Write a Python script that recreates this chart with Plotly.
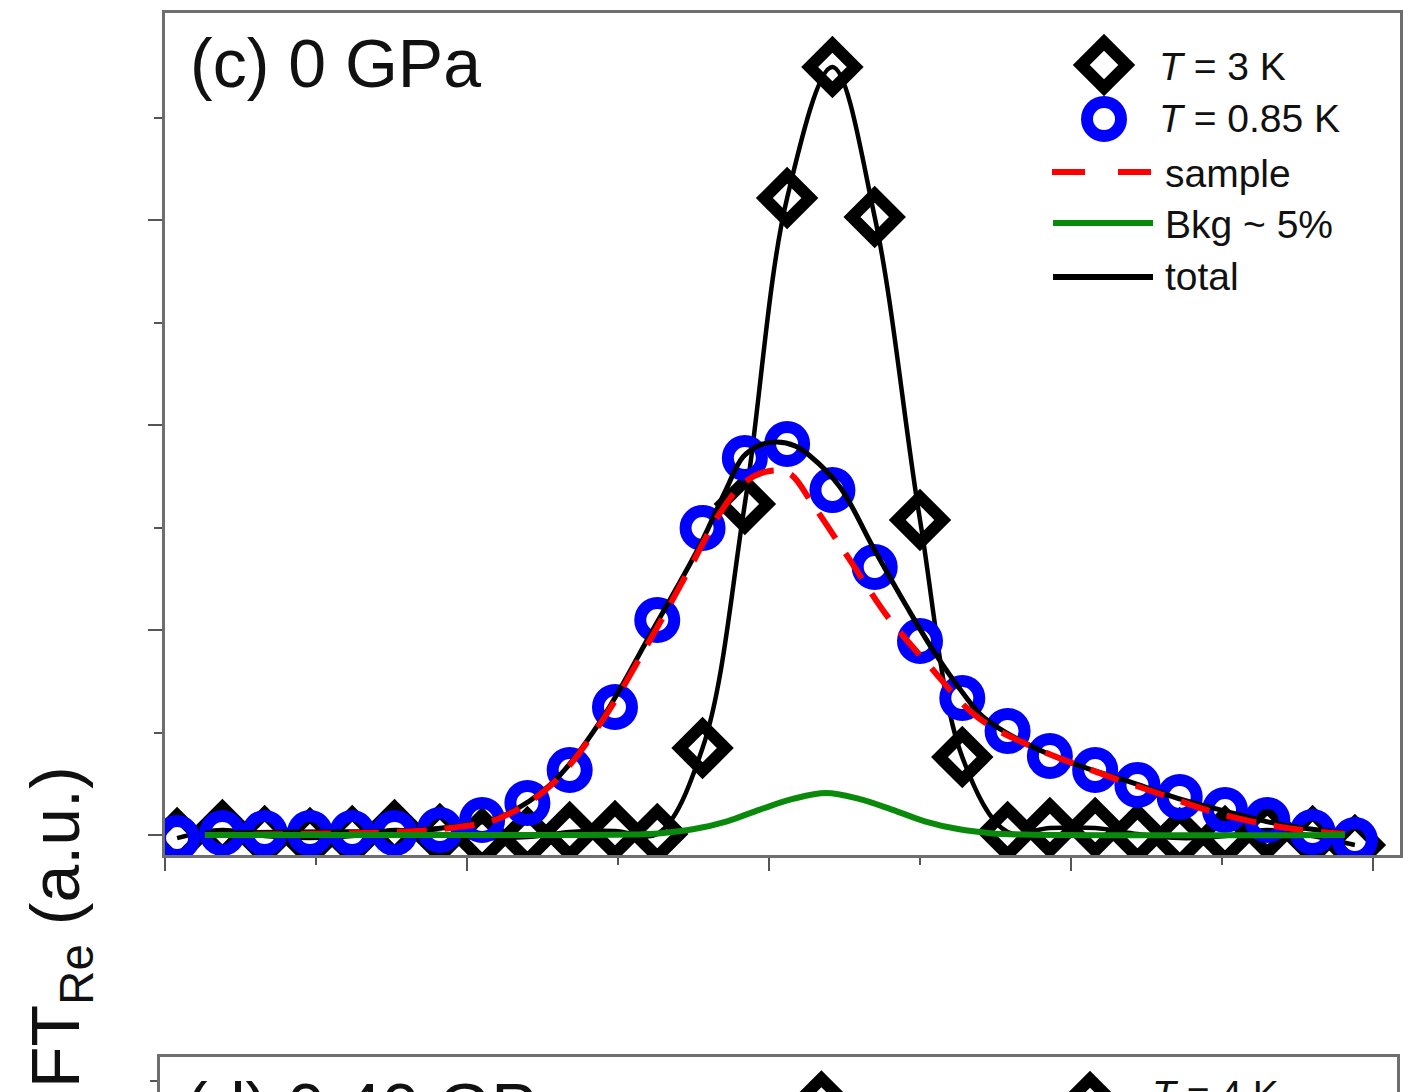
import plotly.graph_objects as go

W, H = 1403, 1092
FONT = "Liberation Sans, Arial, sans-serif"

# ---------------- panel (c): 0 GPa ----------------
# common abscissa of the two Fourier spectra
x_pts = [0.04, 0.19, 0.33, 0.48, 0.62, 0.76, 0.91, 1.05, 1.20, 1.34,
         1.49, 1.63, 1.78, 1.92, 2.06, 2.21, 2.35, 2.50, 2.64, 2.79,
         2.93, 3.08, 3.22, 3.36, 3.51, 3.65, 3.80, 3.94]

# T = 3 K spectrum
ft_3K = [-0.015, 0.024, -0.005, -0.015, -0.005, 0.024, 0.005, -0.015, -0.010, 0.015,
         0.020, 0.005, 0.424, 1.615, 3.107, 3.746, 3.015, 1.537, 0.380, 0.015,
         0.034, 0.034, 0.005, -0.015, -0.005, 0.024, -0.005, -0.049]

# T = 0.85 K spectrum
ft_085K = [-0.015, 0.010, 0.010, 0.010, 0.010, 0.010, 0.024, 0.073, 0.156, 0.317,
           0.624, 1.049, 1.498, 1.839, 1.907, 1.683, 1.307, 0.946, 0.668, 0.507,
           0.385, 0.317, 0.244, 0.185, 0.122, 0.073, 0.015, -0.024]

# fit components for the 0.85 K spectrum
total_x = [0.132, 0.447, 0.778, 0.944, 1.109, 1.275, 1.440, 1.606, 1.772, 1.854,
           1.914, 1.970, 2.026, 2.086, 2.136, 2.235, 2.344, 2.457, 2.543, 2.642,
           2.709, 2.874, 3.040, 3.205, 3.371, 3.536, 3.702, 3.907]
total_y = [0.010, 0.015, 0.020, 0.039, 0.088, 0.244, 0.551, 0.976, 1.415, 1.673,
           1.844, 1.902, 1.917, 1.898, 1.849, 1.698, 1.405, 1.112, 0.902, 0.693,
           0.576, 0.429, 0.332, 0.254, 0.171, 0.107, 0.049, 0.010]

sample_x = [0.132, 0.447, 0.778, 0.944, 1.109, 1.275, 1.440, 1.606, 1.738, 1.838,
            1.921, 2.003, 2.070, 2.146, 2.268, 2.394, 2.523, 2.689, 2.874, 3.086,
            3.305, 3.483, 3.715, 3.907]
sample_y = [0.000, 0.005, 0.015, 0.034, 0.083, 0.239, 0.541, 0.951, 1.302, 1.571,
            1.722, 1.776, 1.761, 1.610, 1.341, 1.063, 0.839, 0.576, 0.429, 0.307,
            0.195, 0.107, 0.034, 0.005]

bkg_x = [0.132, 1.109, 1.533, 1.642, 1.752, 1.861, 1.970, 2.079, 2.189, 2.298,
         2.407, 2.516, 2.626, 2.735, 2.844, 3.907]
bkg_y = [0.000, 0.000, 0.002, 0.009, 0.029, 0.067, 0.124, 0.176, 0.205, 0.176,
         0.124, 0.067, 0.029, 0.009, 0.002, 0.000]

# ---------------- panel (d): 0.40 GPa (top edge only) ----------------
d_x_4K = [2.19]
d_ft_4K = [3.40]

legend_labels = ["<i>T</i> = 3 K", "<i>T</i> = 0.85 K", "sample", "Bkg ~ 5%", "total"]

DIAMOND = dict(symbol="diamond-open", size=35, color="black", line=dict(width=12, color="black"))
CIRCLE = dict(symbol="circle-open", size=34, color="#0000ff", line=dict(width=12, color="#0000ff"))
RED = "#ff0000"
GREEN = "#0a8a0a"

fig = go.Figure()

# 3 K: smooth line through the points, then the markers
fig.add_trace(go.Scatter(x=x_pts, y=ft_3K, mode="lines",
                         line=dict(color="black", width=4.5, shape="spline", smoothing=1.0),
                         showlegend=False, hoverinfo="skip"))
fig.add_trace(go.Scatter(x=x_pts, y=ft_3K, mode="markers", marker=DIAMOND,
                         showlegend=False))
# 0.85 K data
fig.add_trace(go.Scatter(x=x_pts, y=ft_085K, mode="markers", marker=CIRCLE,
                         showlegend=False))
# fit components
fig.add_trace(go.Scatter(x=total_x, y=total_y, mode="lines",
                         line=dict(color="black", width=5, shape="spline", smoothing=1.0),
                         showlegend=False))
fig.add_trace(go.Scatter(x=sample_x, y=sample_y, mode="lines",
                         line=dict(color=RED, width=6, dash="30px,18px", shape="spline", smoothing=1.0),
                         showlegend=False))
fig.add_trace(go.Scatter(x=bkg_x, y=bkg_y, mode="lines",
                         line=dict(color=GREEN, width=6, shape="spline", smoothing=1.0),
                         showlegend=False))

# panel (d) peak marker (only its upper half falls inside the page)
fig.add_trace(go.Scatter(x=d_x_4K, y=d_ft_4K, mode="markers", marker=DIAMOND,
                         xaxis="x2", yaxis="y2", showlegend=False))

# ---------------- legend glyphs on a pixel-scaled overlay ----------------
def px_trace(**kw):
    fig.add_trace(go.Scatter(xaxis="x3", yaxis="y3",
                             showlegend=False, hoverinfo="skip", **kw))

px_trace(x=[1104], y=[65], mode="markers", marker=DIAMOND)
px_trace(x=[1104], y=[119], mode="markers", marker=CIRCLE)
px_trace(x=[1052, 1152], y=[172, 172], mode="lines", line=dict(color=RED, width=6, dash="33px,33px"))
px_trace(x=[1053, 1153], y=[223, 223], mode="lines", line=dict(color=GREEN, width=6))
px_trace(x=[1053, 1153], y=[277, 277], mode="lines", line=dict(color="black", width=6))
# legend of panel (d)
px_trace(x=[1090], y=[1102], mode="markers", marker=DIAMOND)

axis_line = dict(showline=True, linecolor="#6e6e6e", linewidth=3,
                 ticks="outside", tickcolor="#555555", tickwidth=2,
                 showticklabels=False, showgrid=False, zeroline=False)

fig.update_layout(
    width=W, height=H,
    margin=dict(l=0, r=0, t=0, b=0),
    paper_bgcolor="white", plot_bgcolor="rgba(0,0,0,0)",
    showlegend=False,
    xaxis=dict(domain=[165 / W, 1400 / W], range=[0, 1235 / 302], anchor="y",
               mirror=True, tickvals=[0, 1, 2, 3, 4], ticklen=13,
               minor=dict(tickvals=[0.5, 1.5, 2.5, 3.5], ticklen=7, ticks="outside",
                          tickcolor="#555555", tickwidth=2),
               **axis_line),
    yaxis=dict(domain=[(H - 855) / H, (H - 13) / H], range=[-20 / 205, 822 / 205], anchor="x",
               mirror=True, tickvals=[0, 1, 2, 3], ticklen=14,
               minor=dict(tickvals=[0.5, 1.5, 2.5, 3.5], ticklen=8, ticks="outside",
                          tickcolor="#555555", tickwidth=2),
               **axis_line),
    xaxis2=dict(domain=[160 / W, 1397 / W], range=[0, 1237 / 302], anchor="y2",
                side="top", showline=True, linecolor="#6e6e6e", linewidth=3,
                ticks="", showticklabels=False, showgrid=False, zeroline=False),
    yaxis2=dict(domain=[0, 35 / H], range=[3.617 - 35 / 205, 3.617], anchor="x2",
                mirror=True, tickvals=[3.5], ticklen=7, **axis_line),
    xaxis3=dict(domain=[0, 1], range=[0, W], anchor="y3", visible=False),
    yaxis3=dict(domain=[0, 1], range=[H, 0], anchor="x3", visible=False),
)

annotations = [
    dict(text="(c) 0 GPa", x=188, y=63, xanchor="left", yanchor="middle",
         font=dict(size=68)),
    dict(text=legend_labels[0], x=1157, y=66, xanchor="left", yanchor="middle"),
    dict(text=legend_labels[1], x=1157, y=118, xanchor="left", yanchor="middle"),
    dict(text=legend_labels[2], x=1163, y=173, xanchor="left", yanchor="middle"),
    dict(text=legend_labels[3], x=1163, y=224, xanchor="left", yanchor="middle"),
    dict(text=legend_labels[4], x=1163, y=276, xanchor="left", yanchor="middle"),
]
for a in annotations:
    font = dict(family=FONT, size=39, color="#111111")
    font.update(a.pop("font", {}))
    fig.add_annotation(xref="x3", yref="y3", showarrow=False, font=font, **a)

# texts of panel (d), which continue below the page edge
fig.add_annotation(text="(d) 0.40 GPa", xref="paper", yref="paper",
                   x=183 / W, y=1 - 1107 / H, xanchor="left", yanchor="middle",
                   showarrow=False, font=dict(family=FONT, size=68, color="#111111"))
fig.add_annotation(text="<i>T</i> = 4 K", xref="paper", yref="paper",
                   x=1150 / W, y=1 - 1094 / H, xanchor="left", yanchor="middle",
                   showarrow=False, font=dict(family=FONT, size=39, color="#111111"))

# vertical axis title shared by the stacked panels
fig.add_annotation(text="FT<sub>Re</sub> (a.u.)", xref="x3", yref="y3", x=60, y=927,
                   xanchor="center", yanchor="middle", textangle=-90, showarrow=False,
                   font=dict(family=FONT, size=68, color="#111111"))

fig.write_html("out.html")
